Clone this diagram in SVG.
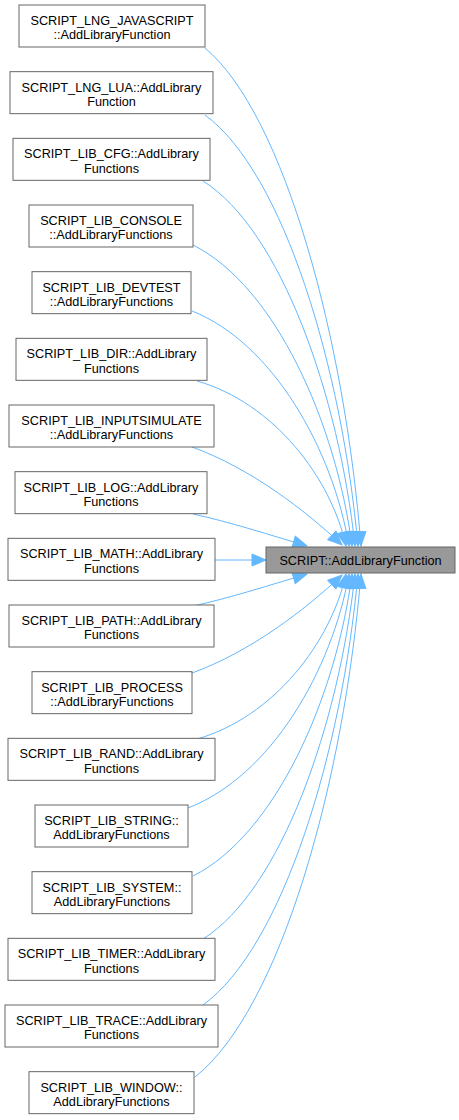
<svg xmlns="http://www.w3.org/2000/svg" width="459" height="1120" viewBox="0 0 459 1120">
<defs>
<style>
.n rect{fill:#ffffff;stroke:#666666;stroke-width:1}
.m rect{fill:#999999;stroke:#666666;stroke-width:1}
text{font-family:"Liberation Sans",Arial,sans-serif;font-size:12.7px;fill:#000000;text-anchor:middle}
.e path{fill:none;stroke:#63b8ff;stroke-width:1;marker-end:url(#ah)}
</style>
<marker id="ah" markerUnits="userSpaceOnUse" markerWidth="14" markerHeight="12" refX="14" refY="6" orient="auto" overflow="visible">
<path d="M0,0 L14,6 L0,12 Z" fill="#63b8ff" stroke="#63b8ff" stroke-width="1"/>
</marker>
</defs>
<rect x="0" y="0" width="459" height="1120" fill="#ffffff"/>
<g id="connectors" class="e">
<path d="M205,48 C285,115 345,342 361,546"/>
<path d="M205,115 C284,173 342,369 358,546"/>
<path d="M203,181 C281,230 339,396 355,546"/>
<path d="M193,245 C275,286 336,423 352,546"/>
<path d="M192,311 C273,343 333,450 349,546"/>
<path d="M197,381 C274,403 331,478 346,546"/>
<path d="M192,447 C250,468 305,510 342,545"/>
<path d="M193,514 C230,522 270,535 307,546"/>
<path d="M215,560 L266,560"/>
<path d="M193,606 C230,598 270,585 307,574"/>
<path d="M192,673 C250,652 305,610 342,575"/>
<path d="M197,739 C274,717 331,642 346,574"/>
<path d="M188,808 C271,776 332,670 349,574"/>
<path d="M193,876 C275,835 336,698 352,574"/>
<path d="M203,939 C281,890 339,724 355,574"/>
<path d="M203,1005 C283,947 342,751 358,574"/>
<path d="M195,1077 C281,1009 344,780 361,574"/>
</g>
<g id="main" class="m"><rect x="266" y="547" width="189" height="26"/><text x="360.5" y="564.5">SCRIPT::AddLibraryFunction</text></g>
<g id="n1" class="n"><rect x="19" y="5" width="186" height="42"/><text x="112" y="25">SCRIPT_LNG_JAVASCRIPT</text><text x="112" y="39.3">::AddLibraryFunction</text></g>
<g id="n2" class="n"><rect x="10" y="71.67" width="203" height="42"/><text x="111.5" y="91.67">SCRIPT_LNG_LUA::AddLibrary</text><text x="111.5" y="105.97">Function</text></g>
<g id="n3" class="n"><rect x="13" y="138.33" width="197" height="42"/><text x="111.5" y="158.33">SCRIPT_LIB_CFG::AddLibrary</text><text x="111.5" y="172.63">Functions</text></g>
<g id="n4" class="n"><rect x="29" y="205" width="164" height="42"/><text x="111" y="225">SCRIPT_LIB_CONSOLE</text><text x="111" y="239.3">::AddLibraryFunctions</text></g>
<g id="n5" class="n"><rect x="32" y="271.67" width="159" height="42"/><text x="111.5" y="291.67">SCRIPT_LIB_DEVTEST</text><text x="111.5" y="305.97">::AddLibraryFunctions</text></g>
<g id="n6" class="n"><rect x="16" y="338.33" width="191" height="42"/><text x="111.5" y="358.33">SCRIPT_LIB_DIR::AddLibrary</text><text x="111.5" y="372.63">Functions</text></g>
<g id="n7" class="n"><rect x="9" y="405" width="205" height="42"/><text x="111.5" y="425">SCRIPT_LIB_INPUTSIMULATE</text><text x="111.5" y="439.3">::AddLibraryFunctions</text></g>
<g id="n8" class="n"><rect x="15" y="471.67" width="192" height="42"/><text x="111" y="491.67">SCRIPT_LIB_LOG::AddLibrary</text><text x="111" y="505.97">Functions</text></g>
<g id="n9" class="n"><rect x="8" y="538.33" width="207" height="42"/><text x="111.5" y="558.33">SCRIPT_LIB_MATH::AddLibrary</text><text x="111.5" y="572.63">Functions</text></g>
<g id="n10" class="n"><rect x="9" y="605" width="205" height="42"/><text x="111.5" y="625">SCRIPT_LIB_PATH::AddLibrary</text><text x="111.5" y="639.3">Functions</text></g>
<g id="n11" class="n"><rect x="32" y="671.67" width="160" height="42"/><text x="112" y="691.67">SCRIPT_LIB_PROCESS</text><text x="112" y="705.97">::AddLibraryFunctions</text></g>
<g id="n12" class="n"><rect x="8" y="738.33" width="207" height="42"/><text x="111.5" y="758.33">SCRIPT_LIB_RAND::AddLibrary</text><text x="111.5" y="772.63">Functions</text></g>
<g id="n13" class="n"><rect x="35" y="805" width="153" height="42"/><text x="111.5" y="825">SCRIPT_LIB_STRING::</text><text x="111.5" y="839.3">AddLibraryFunctions</text></g>
<g id="n14" class="n"><rect x="32" y="871.67" width="160" height="42"/><text x="112" y="891.67">SCRIPT_LIB_SYSTEM::</text><text x="112" y="905.97">AddLibraryFunctions</text></g>
<g id="n15" class="n"><rect x="8" y="938.33" width="207" height="42"/><text x="111.5" y="958.33">SCRIPT_LIB_TIMER::AddLibrary</text><text x="111.5" y="972.63">Functions</text></g>
<g id="n16" class="n"><rect x="5" y="1005" width="213" height="42"/><text x="111.5" y="1025">SCRIPT_LIB_TRACE::AddLibrary</text><text x="111.5" y="1039.3">Functions</text></g>
<g id="n17" class="n"><rect x="29" y="1071.67" width="165" height="42"/><text x="111.5" y="1091.67">SCRIPT_LIB_WINDOW::</text><text x="111.5" y="1105.97">AddLibraryFunctions</text></g>
</svg>
